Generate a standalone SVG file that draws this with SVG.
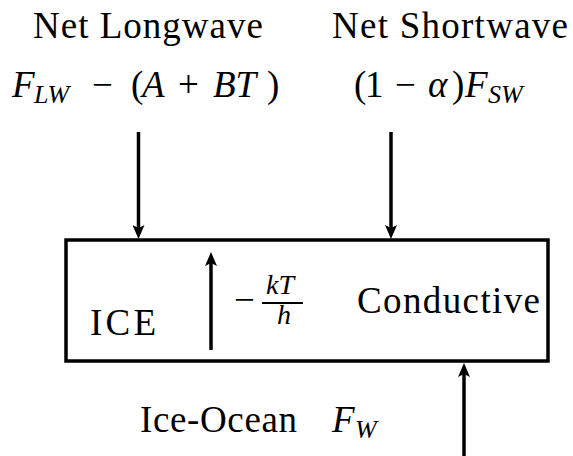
<svg xmlns="http://www.w3.org/2000/svg" width="573" height="456" viewBox="0 0 573 456">
<style>
text{font-family:"Liberation Serif","DejaVu Serif","Noto Serif",serif;font-size:37px;fill:#000}
.it{font-style:italic}
.sub{font-style:italic;font-size:26px}
.fr{font-style:italic;font-size:28px}
.ln{stroke:#000;stroke-width:3.5;fill:none}
.bar{stroke:#000;stroke-width:1.8}
</style>
<defs>
<marker id="ah" markerUnits="userSpaceOnUse" viewBox="0 0 14 12" markerWidth="14" markerHeight="12" refX="6" refY="6" orient="auto">
<path d="M0,0 L14,6 L0,12 L3,6 z" fill="#000"/>
</marker>
</defs>
<rect width="573" height="456" fill="#fff"/>
<g id="longwave">
<text x="33" y="38" textLength="230" lengthAdjust="spacing">Net Longwave</text>
<text y="97"><tspan class="it" x="12">F</tspan><tspan class="sub" x="34" y="103">LW</tspan><tspan x="92" y="97">−</tspan><tspan x="131">(</tspan><tspan class="it" x="142">A</tspan><tspan x="178">+</tspan><tspan class="it" x="213">BT</tspan><tspan x="267">)</tspan></text>
</g>
<g id="shortwave">
<text x="332" y="38" textLength="236" lengthAdjust="spacing">Net Shortwave</text>
<text y="97"><tspan x="354">(</tspan><tspan x="365">1</tspan><tspan x="395">−</tspan><tspan class="it" x="428">α</tspan><tspan x="452">)</tspan><tspan class="it" x="465">F</tspan><tspan class="sub" x="488" y="103">SW</tspan></text>
</g>
<g id="ice">
<rect class="ln" x="66" y="240" width="482" height="121"/>
<text x="90" y="335" textLength="66" lengthAdjust="spacing">ICE</text>
<text x="357" y="313" textLength="183" lengthAdjust="spacing">Conductive</text>
<text x="234" y="312">−</text>
<text class="fr" x="266" y="294">kT</text>
<line class="bar" x1="262" y1="303" x2="303" y2="303"/>
<text class="fr" x="277" y="324">h</text>
</g>
<g id="iceocean">
<text x="140" y="432" textLength="157" lengthAdjust="spacing">Ice-Ocean</text>
<text class="it" x="332" y="432">F</text>
<text class="sub" x="355" y="438">W</text>
</g>
<g id="connectors">
<line class="ln" x1="138.5" y1="132" x2="138.5" y2="231" marker-end="url(#ah)"/>
<line class="ln" x1="391" y1="132" x2="391" y2="231" marker-end="url(#ah)"/>
<line class="ln" x1="211" y1="350" x2="211" y2="260" marker-end="url(#ah)"/>
<line class="ln" x1="464" y1="456" x2="464" y2="371" marker-end="url(#ah)"/>
</g>
</svg>
